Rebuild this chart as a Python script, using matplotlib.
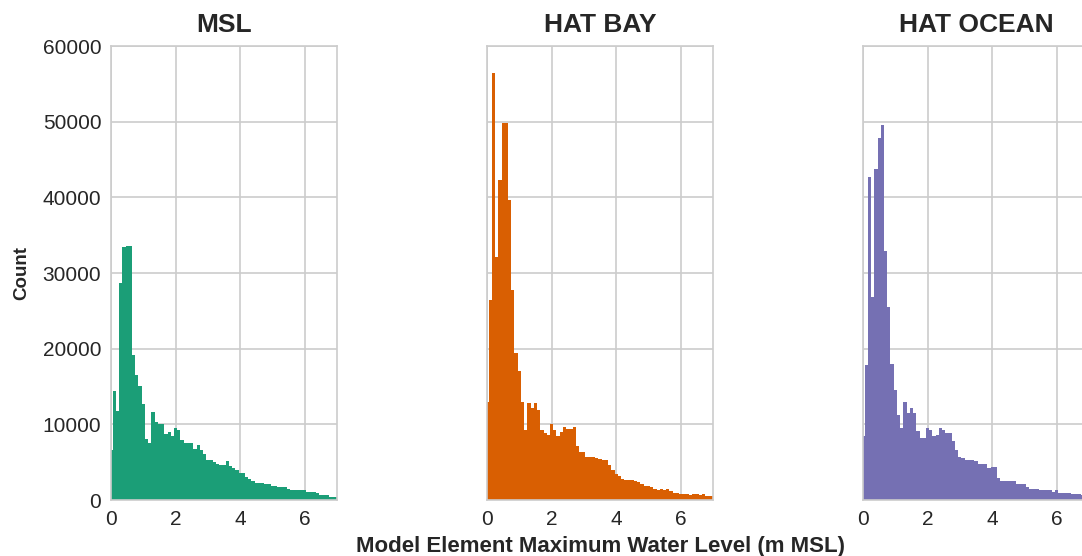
import numpy as np
import matplotlib.pyplot as plt

# element counts per 0.1 m bin, bins centred on 0.0, 0.1, ... 7.0 m
bin_width = 0.1

msl_counts = [
    6600, 14400, 11700, 28700, 33400, 33600, 33600, 19100, 16500, 15100,
    12700, 8000, 7600, 11600, 10300, 10100, 10100, 8700, 9000, 8500,
    9500, 9300, 7900, 7600, 7600, 7600, 6800, 7300, 6600, 6100,
    5300, 5300, 5000, 4700, 4600, 4600, 5100, 4500, 4200, 4000,
    3600, 3600, 3100, 2800, 2550, 2300, 2300, 2300, 2100, 2100,
    1850, 1850, 1700, 1700, 1700, 1400, 1300, 1300, 1300, 1300,
    1300, 1000, 1000, 1000, 900, 660, 660, 660, 440, 440,
    440,
]

hat_bay_counts = [
    13000, 26500, 56400, 32100, 42300, 49800, 49800, 39700, 27800, 19400,
    17000, 13000, 9200, 12800, 12200, 12800, 11900, 9200, 8800, 8600,
    10100, 9200, 8400, 9000, 9700, 9400, 9400, 9700, 7200, 6400,
    6400, 5700, 5700, 5700, 5600, 5400, 5300, 5300, 4600, 4000,
    3500, 3200, 2800, 2700, 2700, 2700, 2550, 2400, 2100, 1850,
    1850, 1700, 1450, 1300, 1400, 1300, 1400, 1200, 970, 970,
    750, 750, 750, 660, 800, 800, 660, 800, 570, 570,
    570,
]

hat_ocean_counts = [
    8400, 17800, 42700, 26800, 43700, 47800, 49600, 32900, 25500, 18000,
    14600, 11200, 9500, 12900, 11500, 12200, 11500, 9100, 8200, 8200,
    9500, 9300, 8400, 8600, 9500, 9300, 8800, 8900, 7800, 6600,
    5700, 5500, 5300, 5300, 5300, 5100, 4800, 4800, 4800, 4200,
    4300, 4300, 2900, 2500, 2500, 2550, 2550, 2550, 2100, 2100,
    2100, 1700, 1400, 1400, 1400, 1300, 1300, 1300, 1300, 1100,
    1300, 880, 880, 880, 880, 750, 750, 750, 700, 700,
    650,
]

titles = ['MSL', 'HAT BAY', 'HAT OCEAN']
colors = ['#1b9e77', '#d95f02', '#7570b3']
series = [msl_counts, hat_bay_counts, hat_ocean_counts]

plt.rcParams['font.family'] = ['Liberation Sans', 'DejaVu Sans']
plt.rcParams['text.color'] = '#262626'
plt.rcParams['axes.labelcolor'] = '#262626'
plt.rcParams['xtick.color'] = '#262626'
plt.rcParams['ytick.color'] = '#262626'

edges = np.arange(len(msl_counts) + 1) * bin_width - bin_width / 2

fig = plt.figure(figsize=(10.82, 5.56), dpi=100)
lefts = [0.1026, 0.4501, 0.7976]
axes = []
for left in lefts:
    ax = fig.add_axes([left, 0.1007, 0.2089, 0.8165],
                      sharey=axes[0] if axes else None)
    axes.append(ax)

for i, ax in enumerate(axes):
    ax.stairs(series[i], edges, fill=True, color=colors[i], linewidth=0)
    ax.set_xlim(0, 7)
    ax.set_ylim(0, 60000)
    ax.set_xticks([0, 2, 4, 6])
    ax.set_yticks(range(0, 60001, 10000))
    ax.set_axisbelow(True)
    ax.grid(True, color='#cccccc', linewidth=1.2)
    for sp in ax.spines.values():
        sp.set_color('#cccccc')
        sp.set_linewidth(1.2)
    ax.tick_params(length=0, labelsize=15, pad=7)
    ax.set_title(titles[i], fontsize=19, fontweight='bold', pad=10)
    if i > 0:
        ax.tick_params(labelleft=False)

axes[0].set_ylabel('Count', fontsize=13.5, fontweight='bold', labelpad=9)
axes[1].set_xlabel('Model Element Maximum Water Level (m MSL)',
                   fontsize=16, fontweight='bold', labelpad=5)

fig.savefig('out.png', dpi=100)
